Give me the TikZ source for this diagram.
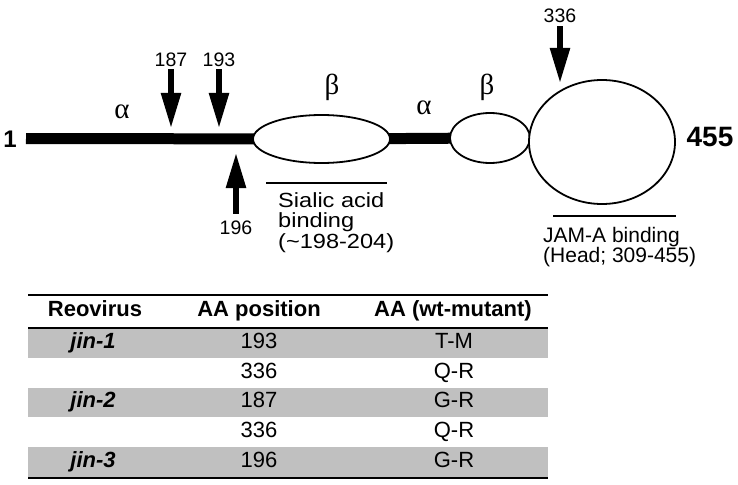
\documentclass[tikz,border=0pt]{standalone}
\usepackage{fontspec}
\setmainfont{Liberation Sans}
\newfontfamily\greekfont{Liberation Serif}
\newfontfamily\widesans[FakeStretch=1.15]{Liberation Sans}
\usetikzlibrary{arrows.meta,shapes.geometric,backgrounds}
\definecolor{rowgray}{RGB}{192,192,192}
\tikzset{
  bar/.style={line width=11pt},
  blob/.style={draw, line width=1.8pt, ellipse, inner sep=0pt, fill=white},
  mut/.style={line width=5.5pt, -{Triangle[length=35pt,width=19pt]}},
  lbl/.style={font=\fontsize{19.5}{22}\selectfont, inner sep=0pt},
  grk/.style={font=\greekfont\fontsize{29}{30}\selectfont, inner sep=0pt},
  endlbl/.style={font=\bfseries\fontsize{#1}{#1}\selectfont, inner sep=0pt},
  note/.style={font=\fontsize{#1}{#1}\selectfont, inner sep=0pt, anchor=base west},
  widenote/.style={font=\widesans\fontsize{#1}{#1}\selectfont, inner sep=0pt, anchor=base west},
  uline/.style={line width=1.8pt},
  rule/.style={line width=2.6pt},
  cell/.style={font=\fontsize{22}{24}\selectfont, inner sep=0pt, anchor=base},
  hcell/.style={font=\bfseries\fontsize{22}{24}\selectfont, inner sep=0pt, anchor=base},
  vcell/.style={font=\bfseries\itshape\fontsize{22}{24}\selectfont, inner sep=0pt, anchor=base}
}
\begin{document}
\begin{tikzpicture}[x=1pt,y=-1pt]
\useasboundingbox (0,0) rectangle (738,484);
% domains
\node[blob, minimum width=137pt, minimum height=48pt] (e1) at (321.5,139) {};
\node[blob, minimum width=80pt, minimum height=50pt] (e2) at (490,138) {};
\node[blob, minimum width=146pt, minimum height=124pt] (head) at (602,142) {};
\coordinate (start) at (26,138.5);
\begin{pgfonlayer}{background}
\draw[bar] (start) -- (e1.center);
\draw[bar] (e1.center) -- (e2.center);
\end{pgfonlayer}
\node[endlbl=24] (n1) at (10,139) {1};
\node[endlbl=28] (n455) at (710,137) {455};
% greek
\node[grk] (a1) at (122,112) {α};
\node[grk] (b1) at (332,87) {β};
\node[grk] (a2) at (424,108) {α};
\node[grk] (b2) at (487,87) {β};
% mutation arrows
\node[lbl] (l187) at (171,60) {187};
\node[lbl] (l193) at (219,60) {193};
\node[lbl] (l196) at (236,228) {196};
\node[lbl] (l336) at (560,16) {336};
\coordinate (p187) at (171,128);
\coordinate (p193) at (219,128);
\coordinate (p196) at (236,153);
\coordinate (p336) at (560,83);
\draw[mut, shorten <=2pt] (l187.south) -- (p187);
\draw[mut, shorten <=2pt] (l193.south) -- (p193);
\draw[mut, shorten <=7pt] (l196.north) -- (p196);
\draw[mut, shorten <=3pt] (l336.south) -- (p336);
% binding regions
\coordinate (s1) at (266,183);
\coordinate (s2) at (387,183);
\draw[uline] (s1) -- (s2);
\node[widenote=20.5] (sial1) at (278,207.5) {Sialic acid};
\node[widenote=20.5] (sial2) at (278,227) {binding};
\node[widenote=20.5] (sial3) at (278,248) {(\textasciitilde198-204)};
\coordinate (j1) at (553,216);
\coordinate (j2) at (676,216);
\draw[uline] (j1) -- (j2);
\node[note=21] (jam1) at (543,242) {JAM-A binding};
\node[note=21] (jam2) at (543,262) {(Head; 309-455)};
% table
\fill[rowgray] (28,328) rectangle (548,357.8);
\fill[rowgray] (28,387.6) rectangle (548,417.4);
\fill[rowgray] (28,447.2) rectangle (548,477);
\draw[rule] (28,295) -- (548,295);
\draw[rule] (28,328) -- (548,328);
\draw[rule] (28,478) -- (548,478);
\node[hcell] (h1) at (95,316) {Reovirus};
\node[hcell] (h2) at (259,316) {AA position};
\node[hcell] (h3) at (453,316) {AA (wt-mutant)};
\node[vcell] (v1) at (93,348) {jin-1};
\node[cell] (r1b) at (259,348) {193};
\node[cell] (r1c) at (454,348) {T-M};
\node[cell] (r2b) at (259,378) {336};
\node[cell] (r2c) at (454,378) {Q-R};
\node[vcell] (v2) at (93,407.5) {jin-2};
\node[cell] (r3b) at (259,407.5) {187};
\node[cell] (r3c) at (454,407.5) {G-R};
\node[cell] (r4b) at (259,437) {336};
\node[cell] (r4c) at (454,437) {Q-R};
\node[vcell] (v3) at (93,467) {jin-3};
\node[cell] (r5b) at (259,467) {196};
\node[cell] (r5c) at (454,467) {G-R};
\end{tikzpicture}
\end{document}
